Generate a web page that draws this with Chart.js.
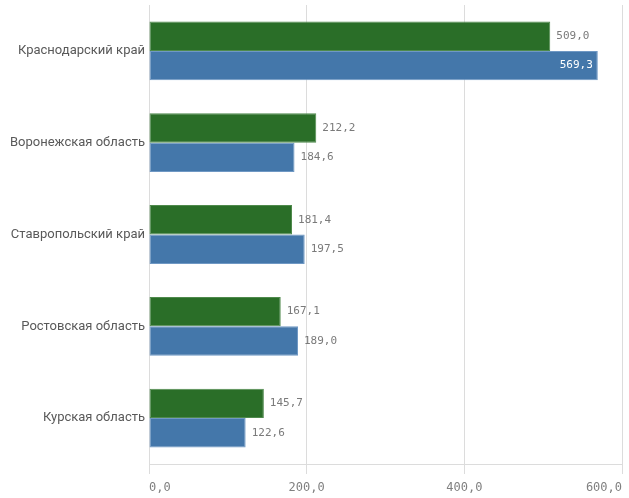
<!DOCTYPE html>
<html>
<head>
<meta charset="utf-8">
<script src="https://cdn.jsdelivr.net/npm/chart.js@4/dist/chart.umd.min.js"></script>
<style>
html,body{margin:0;padding:0;background:#fff;}
canvas{display:block;}
</style>
</head>
<body>
<canvas id="c" width="629" height="498"></canvas>
<script>
const categories = ["Краснодарский край","Воронежская область","Ставропольский край","Ростовская область","Курская область"];
const seriesGreen = [509.0, 212.2, 181.4, 167.1, 145.7];
const seriesBlue = [569.3, 184.6, 197.5, 189.0, 122.6];
const xTicks = [0, 200, 400, 600];

const fmt = v => v.toFixed(1).replace('.', ',');
const monoFont = "'DejaVu Sans Mono', monospace";

const valueLabels = {
  id: 'valueLabels',
  afterDatasetsDraw(chart) {
    const ctx = chart.ctx;
    ctx.save();
    ctx.font = "11px " + monoFont;
    ctx.textBaseline = 'middle';
    chart.data.datasets.forEach((ds, di) => {
      const meta = chart.getDatasetMeta(di);
      meta.data.forEach((bar, i) => {
        const txt = fmt(ds.data[i]);
        const w = ctx.measureText(txt).width;
        if (bar.x + 6 + w > chart.width - 2) {
          ctx.fillStyle = '#ffffff';
          ctx.textAlign = 'right';
          ctx.fillText(txt, bar.x - 5, bar.y);
        } else {
          ctx.fillStyle = '#7a7a7a';
          ctx.textAlign = 'left';
          ctx.fillText(txt, bar.x + 6, bar.y);
        }
      });
    });
    ctx.restore();
  }
};

new Chart(document.getElementById('c'), {
  type: 'bar',
  data: {
    labels: categories,
    datasets: [
      { data: seriesGreen, backgroundColor: '#2a6e28', borderColor: '#4f8a4c', borderWidth: 1, borderSkipped: false, categoryPercentage: 0.64, barPercentage: 1.0 },
      { data: seriesBlue, backgroundColor: '#4477aa', borderColor: '#6f98c4', borderWidth: 1, borderSkipped: false, categoryPercentage: 0.64, barPercentage: 1.0 }
    ]
  },
  options: {
    indexAxis: 'y',
    responsive: false,
    animation: false,
    layout: { padding: { top: 5, right: 5, left: 0, bottom: 0 } },
    plugins: { legend: { display: false }, tooltip: { enabled: false } },
    scales: {
      x: {
        min: 0, max: 600,
        afterBuildTicks: s => { s.ticks = xTicks.map(v => ({ value: v })); },
        afterFit: s => { s.height = 34; },
        grid: { color: '#dcdcdc', lineWidth: 1, tickLength: 10, drawTicks: true },
        border: { color: '#dcdcdc' },
        ticks: {
          align: 'inner',
          padding: 7,
          color: '#808080',
          font: { family: monoFont, size: 12 },
          callback: v => fmt(v)
        }
      },
      y: {
        afterFit: s => { s.width = 149; s.paddingTop = 0; s.paddingBottom = 0; },
        grid: { display: false, drawTicks: false },
        border: { color: '#dcdcdc' },
        ticks: {
          padding: 4,
          color: '#595959',
          font: { family: "Roboto, 'Open Sans', sans-serif", size: 13 }
        }
      }
    }
  },
  plugins: [valueLabels]
});
</script>
</body>
</html>
